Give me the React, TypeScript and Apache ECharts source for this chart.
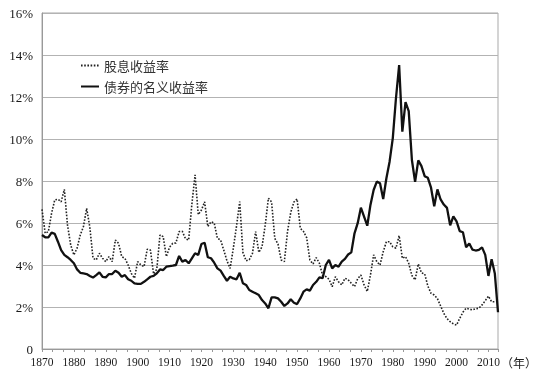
import React, { useEffect, useRef } from "react";
import * as echarts from "echarts";

const START_YEAR = 1870;
const SERIES_NAMES = ["股息收益率", "债券的名义收益率"];
const X_UNIT = "（年）";

// 债券的名义收益率 (%), 1870–2013
const bondYield = [
  5.43, 5.32, 5.32, 5.54, 5.48, 5.11, 4.71, 4.48, 4.37, 4.24,
  4.08, 3.79, 3.63, 3.6, 3.57, 3.48, 3.4, 3.52, 3.65, 3.44,
  3.41, 3.57, 3.57, 3.73, 3.63, 3.44, 3.52, 3.32, 3.25, 3.12,
  3.1, 3.1, 3.2, 3.32, 3.44, 3.48, 3.6, 3.79, 3.76, 3.92,
  3.95, 3.97, 4.0, 4.43, 4.16, 4.24, 4.08, 4.32, 4.56, 4.48,
  5.0, 5.06, 4.37, 4.32, 4.11, 3.84, 3.73, 3.48, 3.25, 3.44,
  3.36, 3.32, 3.63, 3.13, 3.05, 2.81, 2.73, 2.65, 2.57, 2.33,
  2.17, 1.94, 2.46, 2.46, 2.41, 2.25, 2.05, 2.17, 2.37, 2.2,
  2.14, 2.41, 2.73, 2.84, 2.78, 3.05, 3.2, 3.41, 3.37, 4.0,
  4.24, 3.84, 4.0, 3.92, 4.16, 4.29, 4.5, 4.6, 5.51, 5.99,
  6.73, 6.3, 5.87, 6.86, 7.57, 7.97, 7.89, 7.14, 8.13, 8.92,
  10.03, 11.94, 13.52, 10.35, 11.76, 11.33, 9.0, 7.96, 8.98, 8.71,
  8.23, 8.15, 7.68, 6.8, 7.6, 7.12, 6.88, 6.72, 5.89, 6.32,
  6.08, 5.61, 5.56, 4.84, 5.02, 4.73, 4.69, 4.72, 4.84, 4.48,
  3.48, 4.27, 3.6, 1.75,
];

// 股息收益率 (%), 1870–2012
const dividendYield = [
  6.65, 5.51, 5.59, 6.46, 7.1, 7.13, 7.01, 7.6, 5.9, 4.95,
  4.48, 4.8, 5.43, 5.83, 6.7, 5.8, 4.32, 4.24, 4.56, 4.32,
  4.16, 4.4, 4.16, 5.19, 5.03, 4.4, 4.32, 4.0, 3.6, 3.37,
  4.16, 4.0, 3.92, 4.75, 4.71, 3.57, 3.8, 5.43, 5.35, 4.4,
  4.85, 5.03, 5.05, 5.59, 5.6, 5.25, 5.19, 6.9, 8.29, 6.4,
  6.62, 7.01, 5.83, 6.06, 6.0, 5.27, 5.19, 4.71, 4.2, 3.84,
  4.8, 5.85, 7.02, 4.6, 4.2, 4.25, 4.55, 5.59, 4.6, 4.87,
  5.9, 7.18, 7.0, 5.27, 5.0, 4.24, 4.16, 5.6, 6.5, 7.0,
  7.15, 5.75, 5.6, 5.3, 4.24, 4.05, 4.35, 4.08, 3.5, 3.45,
  3.32, 2.97, 3.44, 3.2, 3.05, 3.37, 3.3, 3.13, 2.97, 3.35,
  3.52, 3.05, 2.74, 3.52, 4.48, 4.16, 4.0, 4.63, 5.11, 5.11,
  4.87, 4.8, 5.4, 4.32, 4.4, 4.08, 3.5, 3.29, 4.05, 3.62,
  3.58, 3.0, 2.65, 2.57, 2.4, 2.05, 1.7, 1.45, 1.3, 1.2,
  1.14, 1.46, 1.75, 1.94, 1.9, 1.86, 1.92, 1.94, 2.1, 2.3,
  2.52, 2.25, 2.25,
];

const X_MIN = 1870;
const X_MAX = 2013;
const X_STEP = 10;
const LAST_LABEL = 2010;
const Y_MAX = 16;
const Y_STEP = 2;

const SERIF = "Times New Roman, Liberation Serif, serif";
const CJK = "Noto Sans CJK SC";

export default function App() {
  const ref = useRef<HTMLDivElement>(null);

  useEffect(() => {
    if (!ref.current) return;
    const chart = echarts.init(ref.current, null, { renderer: "svg" });
    const toPairs = (arr: number[]) => arr.map((v, i) => [START_YEAR + i, v]);

    chart.setOption({
      animation: false,
      grid: {
        left: 42,
        right: 43,
        top: 13,
        bottom: 29,
        show: true,
        borderColor: "#a9a9a9",
        borderWidth: 1,
      },
      legend: {
        orient: "vertical",
        left: 80,
        top: 59,
        padding: 0,
        itemWidth: 18,
        itemHeight: 10,
        itemGap: 8,
        data: SERIES_NAMES,
        itemStyle: { opacity: 0 },
        textStyle: { fontFamily: CJK, fontSize: 13, color: "#333" },
      },
      xAxis: {
        type: "value",
        min: X_MIN,
        max: X_MAX,
        interval: X_STEP,
        axisLine: { show: true, lineStyle: { color: "#999", width: 1 } },
        axisTick: { show: true, length: 3, lineStyle: { color: "#999" } },
        minorTick: { show: true, splitNumber: 3, length: 3, lineStyle: { color: "#999" } },
        splitLine: { show: false },
        axisLabel: {
          formatter: (v: number) => (v <= LAST_LABEL ? String(v) : ""),
          showMaxLabel: false,
          fontFamily: SERIF,
          fontSize: 11.5,
          color: "#1a1a1a",
          margin: 7,
        },
      },
      yAxis: {
        type: "value",
        min: 0,
        max: Y_MAX,
        interval: Y_STEP,
        axisLine: { show: true, lineStyle: { color: "#999", width: 1 } },
        axisTick: { show: false },
        splitLine: { show: true, lineStyle: { color: "#b3b3b3", width: 1 } },
        axisLabel: {
          formatter: (v: number) => (v === 0 ? "0" : v + "%"),
          fontFamily: SERIF,
          fontSize: 13,
          color: "#1a1a1a",
          margin: 9,
        },
      },
      series: [
        {
          name: SERIES_NAMES[0],
          type: "line",
          data: toPairs(dividendYield),
          symbol: "none",
          itemStyle: { color: "#222" },
          lineStyle: { color: "#222", width: 1.6, type: [1.6, 1.6] },
          z: 2,
        },
        {
          name: SERIES_NAMES[1],
          type: "line",
          data: toPairs(bondYield),
          symbol: "none",
          itemStyle: { color: "#111" },
          lineStyle: { color: "#111", width: 2.3 },
          z: 3,
        },
      ],
      graphic: [
        {
          type: "text",
          x: 501,
          y: 362,
          style: {
            text: X_UNIT,
            fontFamily: CJK,
            fontSize: 12,
            fill: "#222",
            textVerticalAlign: "middle",
          },
        },
      ],
    });

    return () => chart.dispose();
  }, []);

  return (
    <div
      ref={ref}
      style={{ position: "fixed", left: 0, top: 0, width: 541, height: 378 }}
    />
  );
}
